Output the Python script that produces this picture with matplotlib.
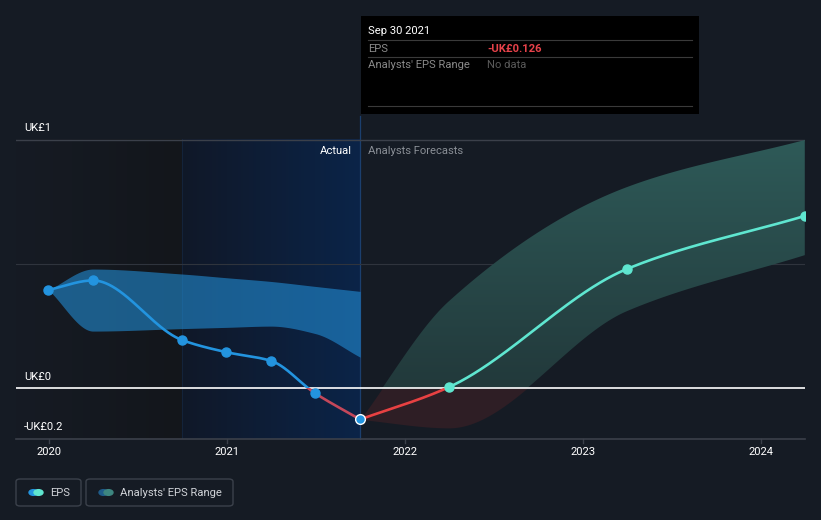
import numpy as np
import matplotlib.pyplot as plt
from matplotlib.patches import Rectangle, FancyBboxPatch
from matplotlib.colors import LinearSegmentedColormap

plt.rcParams['font.family'] = ['Roboto', 'DejaVu Sans']

# data (decimal years, EPS in UK£)
actual_dates = [2019.997, 2020.247, 2020.747, 2020.997, 2021.247, 2021.496, 2021.748]
actual_eps = [0.396, 0.434, 0.194, 0.145, 0.110, -0.021, -0.126]
actual_low = [0.396, 0.23, 0.24, 0.245, 0.25, 0.22, 0.125]
actual_high = [0.396, 0.48, 0.46, 0.445, 0.43, 0.41, 0.39]

fc_dates = [2021.748, 2022.246, 2023.246, 2024.246]
fc_eps = [-0.126, 0.004, 0.48, 0.694]
fc_low = [-0.126, -0.16, 0.31, 0.536]
fc_high = [-0.126, 0.35, 0.81, 1.0]

tick_years = [2020, 2021, 2022, 2023, 2024]
y_labels = {1.0: 'UK£1', 0.0: 'UK£0', -0.2: '-UK£0.2'}

BG = '#151b24'
W, H = 821, 520
FS = 8.1


def pchip(x, y, n=300):
    # monotone cubic (Fritsch-Carlson), like the d3 monotone curve
    x = np.asarray(x, float)
    y = np.asarray(y, float)
    h = np.diff(x)
    d = np.diff(y) / h
    m = np.zeros_like(y)
    for i in range(1, len(y) - 1):
        if d[i - 1] * d[i] > 0:
            w1 = 2 * h[i] + h[i - 1]
            w2 = h[i] + 2 * h[i - 1]
            m[i] = (w1 + w2) / (w1 / d[i - 1] + w2 / d[i])
    m[0] = d[0]
    m[-1] = d[-1]
    xs, ys = [], []
    for i in range(len(h)):
        t = np.linspace(0, 1, n)
        h00 = 2 * t**3 - 3 * t**2 + 1
        h10 = t**3 - 2 * t**2 + t
        h01 = -2 * t**3 + 3 * t**2
        h11 = t**3 - t**2
        xs.append(x[i] + t * h[i])
        ys.append(h00 * y[i] + h10 * h[i] * m[i] + h01 * y[i + 1] + h11 * h[i] * m[i + 1])
    return np.concatenate(xs), np.concatenate(ys)


def fx(px):
    return px / W


def fy(py):
    return 1 - py / H


fig = plt.figure(figsize=(W / 100, H / 100), dpi=100, facecolor=BG)
ax = fig.add_axes([fx(16), fy(439), fx(805) - fx(16), fy(139.5) - fy(439)])
ax.set_facecolor(BG)
x0 = 2020 - 33 / 178
x1 = 2020 + 756 / 178
y0 = -51 / 249
y1 = 1.0
ax.set_xlim(x0, x1)
ax.set_ylim(y0, y1 + 0.002)
for s in ax.spines.values():
    s.set_visible(False)

# past shading
grad = np.linspace(0, 1, 512).reshape(1, -1)
g1 = LinearSegmentedColormap.from_list('g1', ['#161b24', '#13161b'])
ax.imshow(grad, cmap=g1, aspect='auto', interpolation='bilinear',
          extent=[x0, actual_dates[-1] - 1, y0, y1], zorder=0)
g2 = LinearSegmentedColormap.from_list('g2', ['#101828', '#0b2448'])
ax.imshow(grad, cmap=g2, aspect='auto', interpolation='bilinear',
          extent=[actual_dates[-1] - 1, actual_dates[-1], y0, y1], zorder=0)
ax.axvline(actual_dates[-1] - 1, color='#13233a', lw=0.8, zorder=0.5)
ax.plot([actual_dates[-1]] * 2, [y0, y0 + (439 - 115) / 249], color='#1b3f6e',
        lw=0.9, zorder=1, clip_on=False)

# grid
ax.axhline(1.0, color='#3b404a', lw=1, zorder=1)
ax.axhline(0.5, color='#2f343d', lw=0.8, zorder=1)
ax.axhline(y0, color='#3b404a', lw=1.2, zorder=1, clip_on=False)
for yr in tick_years:
    ax.plot([yr, yr], [y0, y0 - 4 / 249], color='#3b404a', lw=1, clip_on=False)
    fig.text(fx(49 + (yr - 2020) * 178), fy(452), str(yr), color='white',
             fontsize=FS, ha='center', va='center')
for v, lab in y_labels.items():
    fig.text(fx(24), fy(389 - v * 249 - 12), lab, color='white', fontsize=FS,
             ha='left', va='center')

# actual range band
bx, blo = pchip(actual_dates, actual_low)
_, bhi = pchip(actual_dates, actual_high)
ax.fill_between(bx, blo, bhi, color='#2394df', alpha=0.56, lw=0, zorder=2)

# forecast range band with vertical gradient, split at zero
fxs, flo = pchip(fc_dates, fc_low)
_, fhi = pchip(fc_dates, fc_high)
band = ax.fill_between(fxs, flo, fhi, color='none', lw=0, zorder=2)
gg = LinearSegmentedColormap.from_list('gg', ['#22393b', '#2e5a58'])
im = ax.imshow(np.linspace(0, 1, 256).reshape(-1, 1), cmap=gg, origin='lower',
               aspect='auto', extent=[fc_dates[0], x1, 0, y1], zorder=2)
im.set_clip_path(band.get_paths()[0], transform=ax.transData)
ax.fill_between(fxs, np.minimum(flo, 0), np.minimum(fhi, 0),
                color='#2e1e25', lw=0, zorder=2)

# zero line
ax.axhline(0, color='white', lw=1.2, zorder=3)

# EPS lines, coloured by sign
top_clip = Rectangle((x0, 0), x1 - x0, 5, transform=ax.transData)
bot_clip = Rectangle((x0, -5), x1 - x0, 5, transform=ax.transData)
lx, ly = pchip(actual_dates, actual_eps)
l1, = ax.plot(lx, ly, color='#2394df', lw=1.9, zorder=4, solid_capstyle='round')
l1.set_clip_path(top_clip)
l2, = ax.plot(lx, ly, color='#c4475a', lw=1.9, zorder=4, solid_capstyle='round')
l2.set_clip_path(bot_clip)
kx, ky = pchip(fc_dates, fc_eps)
l3, = ax.plot(kx, ky, color='#5fe6d0', lw=1.9, zorder=4, solid_capstyle='round')
l3.set_clip_path(top_clip)
l4, = ax.plot(kx, ky, color='#e84142', lw=1.9, zorder=4, solid_capstyle='round')
l4.set_clip_path(bot_clip)

ax.plot(actual_dates[:-1], actual_eps[:-1], 'o', color='#2394df', ms=6.5, zorder=5,
        clip_on=False)
ax.plot(actual_dates[-1:], actual_eps[-1:], 'o', color='#2394df', ms=7,
        markeredgecolor='white', markeredgewidth=1, zorder=5)
ax.plot(fc_dates[1:], fc_eps[1:], 'o', color='#5fe6d0', ms=6.5, zorder=5)

ax.set_xticks([])
ax.set_yticks([])

# section labels
fig.text(fx(352), fy(151), 'Actual', color='white', fontsize=FS, ha='right', va='center')
fig.text(fx(368), fy(151), 'Analysts Forecasts', color='#8a8f96', fontsize=FS,
         ha='left', va='center')

# tooltip
fig.patches.append(Rectangle((fx(361), fy(114)), fx(699) - fx(361), fy(16) - fy(114),
                             transform=fig.transFigure, facecolor='black',
                             edgecolor='none', zorder=10))
for ly_ in [40, 57, 106]:
    fig.add_artist(plt.Line2D([fx(368), fx(692)], [fy(ly_), fy(ly_)],
                              transform=fig.transFigure, color='#3a3a3a', lw=0.8,
                              zorder=11))
fig.text(fx(368), fy(31), 'Sep 30 2021', color='white', fontsize=FS, ha='left',
         va='center', zorder=12)
fig.text(fx(368), fy(48.5), 'EPS', color='#8a8a8a', fontsize=FS, ha='left',
         va='center', zorder=12)
fig.text(fx(487), fy(48.5), '-UK£0.126', color='#e8424a', fontsize=FS,
         fontweight='bold', ha='left', va='center', zorder=12)
fig.text(fx(368), fy(65.5), "Analysts' EPS Range", color='#8a8a8a', fontsize=FS,
         ha='left', va='center', zorder=12)
fig.text(fx(487), fy(65.5), 'No data', color='#5a5a5a', fontsize=FS, ha='left',
         va='center', zorder=12)

# legend
legend_items = [
    ('EPS', '#2394df', '#5fe6d0', 16, 81),
    ("Analysts' EPS Range", '#1f5c8a', '#3d8680', 86, 233),
]
for text, c1, c2, bl, br in legend_items:
    fig.patches.append(FancyBboxPatch((fx(bl), fy(506)), fx(br) - fx(bl), fy(479) - fy(506),
                                      boxstyle='round,pad=0,rounding_size=0.005',
                                      transform=fig.transFigure, facecolor='none',
                                      edgecolor='#3b414b', lw=1))
    for cx, c in [(bl + 17.5, c1), (bl + 22.5, c2)]:
        fig.patches.append(plt.Circle((fx(cx), fy(492.5)), 4.5 / W,
                                      transform=fig.transFigure, color=c))
    fig.text(fx(bl + 34), fy(492.5), text, color='#d0d3d8', fontsize=FS,
             ha='left', va='center')

fig.savefig('out.png', dpi=100, facecolor=BG)
